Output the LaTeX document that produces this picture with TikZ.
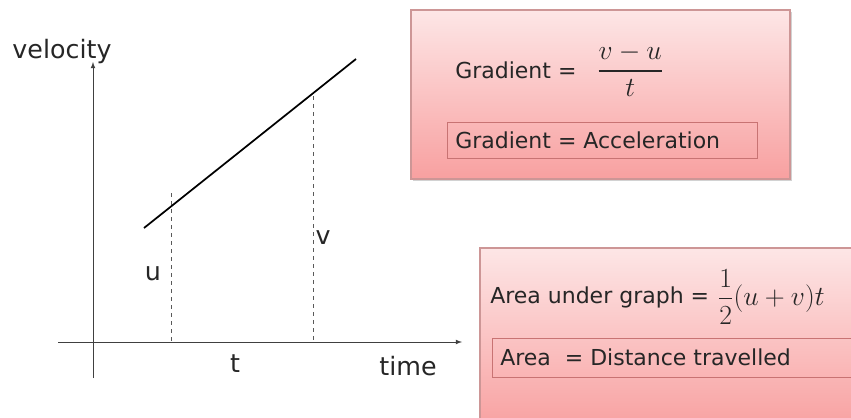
\documentclass[tikz,border=0pt]{standalone}
\usepackage[no-math]{fontspec}
\usepackage{amsmath}
\setmainfont{DejaVu Sans}
\usetikzlibrary{positioning,shadows}
\definecolor{boxtop}{RGB}{253,230,230}
\definecolor{boxbot}{RGB}{248,160,160}
\definecolor{boxedge}{RGB}{205,150,150}
\definecolor{inneredge}{RGB}{200,115,115}
\tikzset{
  axislbl/.style={font=\fontsize{19}{21}\selectfont, text=black!85, inner sep=0pt},
  boxlbl/.style={font=\fontsize{16.5}{18}\selectfont, text=black!85, inner sep=0pt},
  mathlbl/.style={font=\fontsize{20}{22}\selectfont, text=black!85, inner sep=0pt},
  pinkbox/.style={draw=boxedge, line width=0.8pt, top color=boxtop, bottom color=boxbot,
    drop shadow={opacity=0.35, shadow xshift=1.2pt, shadow yshift=-1.2pt}},
  innerbox/.style={draw=inneredge, line width=0.6pt},
  guide/.style={dashed, gray!70!black, line width=0.5pt},
}
\begin{document}
\begin{tikzpicture}[x=0.75pt,y=-0.75pt]
  \clip (0,0) rectangle (851,418);
  \fill[white] (0,0) rectangle (851,418);

  % axes
  \coordinate (ybot) at (93,378);
  \coordinate (ytop) at (93,62);
  \coordinate (xleft) at (58,342);
  \coordinate (xright) at (462,342);
  \draw[-latex, line width=0.6pt, black!75] (ybot) -- (ytop);
  \draw[-latex, line width=0.6pt, black!75] (xleft) -- (xright);
  \node[axislbl] (vel) at (62,52) {velocity};
  \node[axislbl] (time) at (408,366) {time};

  % graph line
  \coordinate (p0) at (144,228);
  \coordinate (p1) at (356,59);
  \draw[line width=1.3pt] (p0) -- (p1);

  % guides for u and v
  \coordinate (utop) at (171,193);
  \coordinate (ubot) at (171,342);
  \coordinate (vtop) at (313,96);
  \coordinate (vbot) at (313,342);
  \draw[guide] (utop) -- (ubot);
  \draw[guide] (vtop) -- (vbot);
  \node[axislbl] (ulbl) at (153,274) {u};
  \node[axislbl] (vlbl) at (323,238) {v};
  \node[axislbl] (tlbl) at (235,364) {t};

  % gradient box
  \path[pinkbox] (411,10) rectangle (790,179);
  \node[boxlbl, anchor=west] (glbl) at (455,70) {Gradient =};
  \node[mathlbl, right=15pt of glbl] (gfrac) {$\dfrac{v-u}{t}$};
  \draw[innerbox] (447,122) rectangle (757,158);
  \node[boxlbl, anchor=west] (gacc) at (455,140) {Gradient = Acceleration};

  % area box
  \path[pinkbox] (480,248) rectangle (870,430);
  \node[boxlbl, anchor=west] (albl) at (490,297) {Area under graph =};
  \node[mathlbl, right=6pt of albl] (afrac) {$\dfrac{1}{2}(u+v)t$};
  \draw[innerbox] (492,338) rectangle (870,377);
  \node[boxlbl, anchor=west] (adist) at (500,357) {Area \ = Distance travelled};
\end{tikzpicture}
\end{document}
